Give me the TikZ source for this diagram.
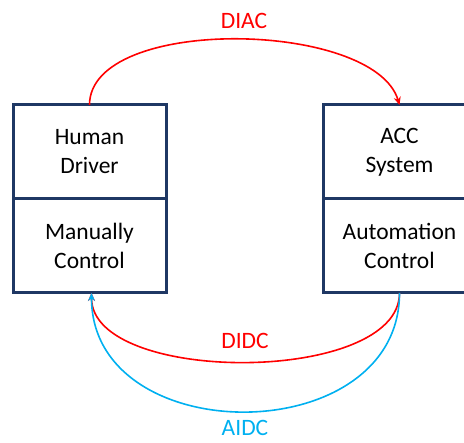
\documentclass[tikz,border=0pt]{standalone}
\usepackage{fontspec}
\setmainfont{Carlito}
\usepackage{tikz}
\usetikzlibrary{arrows.meta,positioning,calc}
\usepackage{xcolor}
\definecolor{boxnavy}{RGB}{31,56,100}
\definecolor{arcred}{RGB}{255,0,0}
\definecolor{arcblue}{RGB}{0,176,240}

\begin{document}
\begin{tikzpicture}[
    x=1pt, y=-1pt,
    box/.style={rectangle, draw=boxnavy, line width=3pt, outer sep=0pt, minimum width=153pt, minimum height=94pt, align=center, font=\fontsize{23.5}{29}\selectfont},
    lbl/.style={inner sep=0pt, font=\fontsize{23.5}{29}\selectfont},
    arrow/.style={-{Stealth[length=8pt,width=7pt]}, line width=1.6pt}
]
\clip (0,0) rectangle (464,443);

% Boxes
\node[box] (human) at (89.5,152) {Human\\Driver};
\node[box, below=0pt of human] (manual) {Manually\\Control};

\node[box] (acc) at (399.5,152) {ACC\\System};
\node[box, below=0pt of acc] (automation) {Automation\\Control};

% Labels
\node[lbl, text=arcred] (diac) at (244,20.5) {DIAC};
\node[lbl, text=arcred] (didc) at (245,340.5) {DIDC};
\node[lbl, text=arcblue] (aidc) at (245,428) {AIDC};

% Arrows
\draw[arrow, arcred] (human.north) .. controls +(0,-90) and +(-25,-85) .. (acc.north);
\draw[arrow, arcred] (automation.south) .. controls +(0,92) and +(0,92) .. ($(manual.south)+(2,0)$);
\draw[arrow, arcblue] (automation.south) .. controls +(0,158) and +(0,158) .. ($(manual.south)+(2,0)$);

\end{tikzpicture}
\end{document}
